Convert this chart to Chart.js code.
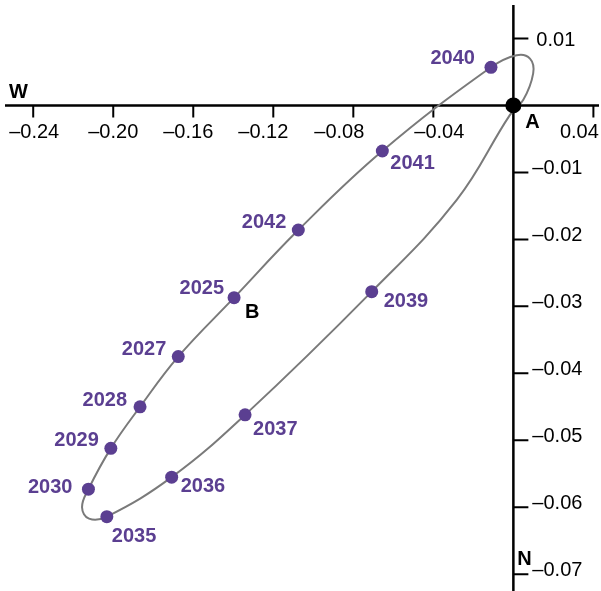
<!DOCTYPE html>
<html>
<head>
<meta charset="utf-8">
<script src="https://cdn.jsdelivr.net/npm/chart.js@4.4.1/dist/chart.umd.min.js"></script>
<style>
  html, body { margin:0; padding:0; background:#fff; }
  #wrap { width:601px; height:591px; }
</style>
</head>
<body>
<div id="wrap"><canvas id="chart" width="601" height="591"></canvas></div>
<script>
const PURPLE = "#5b3f91";
const GRAY = "#7a7a7a";
const FONT = '"Liberation Sans", Arial, Helvetica, sans-serif';

// labelled yearly positions (x: W-E, y: N-S)
const years = [2025, 2027, 2028, 2029, 2030, 2035, 2036, 2037, 2039, 2040, 2041, 2042];
const posX = [-0.1396, -0.1675, -0.1866, -0.2012, -0.2124, -0.2032, -0.1708, -0.1341, -0.0708, -0.0112, -0.0655, -0.1075];
const posY = [-0.0287, -0.0375, -0.0450, -0.0512, -0.0573, -0.0614, -0.0555, -0.0462, -0.0278, 0.0057, -0.0068, -0.0186];

// traced loop (starts and ends at 2025)
const pathX = [-0.1396, -0.1675, -0.1866, -0.2012, -0.2124, -0.2156, -0.2121, -0.2032, -0.1708, -0.1341, -0.0708, -0.0283, -0.0017, 0.0049, 0.0099, 0.0083, 0.0016, -0.0112, -0.0655, -0.1075, -0.1396];
const pathY = [-0.0287, -0.0375, -0.0450, -0.0512, -0.0573, -0.0600, -0.0617, -0.0614, -0.0555, -0.0462, -0.0278, -0.0141, -0.0014, 0.0008, 0.0048, 0.0070, 0.0075, 0.0057, -0.0068, -0.0186, -0.0287];

// point A
const originX = [0];
const originY = [0];

const xTicks = [-0.24, -0.20, -0.16, -0.12, -0.08, -0.04, 0.04];
const yTicks = [0.01, -0.01, -0.02, -0.03, -0.04, -0.05, -0.06, -0.07];

// label placement (pixels from the point: dx, baseline dy, align)
const yearLabelPos = [
  [-10, -4, "right"], [-12, -2, "right"], [-13, -1, "right"], [-12, -2, "right"],
  [-16, 4, "right"], [5, 25, "left"], [9, 15, "left"], [8, 20, "left"],
  [12, 15, "left"], [-16, -3, "right"], [8, 18, "left"], [-12, -2, "right"]
];
const xLabelShift = [1, 0, -5, -10, -14, 6, -14];

const fmt = (v) => (v < 0 ? "\u2013" : "") + Math.abs(v).toFixed(2);

const crossAxes = {
  id: "crossAxes",
  beforeDatasetsDraw(chart){
    const {ctx, chartArea:a, scales:{x, y}} = chart;
    const x0 = x.getPixelForValue(0), y0 = y.getPixelForValue(0);
    ctx.save();
    ctx.strokeStyle = "#000";
    ctx.lineWidth = 2.5;
    ctx.beginPath();
    ctx.moveTo(a.left, y0); ctx.lineTo(a.right, y0);
    ctx.moveTo(x0, a.top); ctx.lineTo(x0, a.bottom);
    ctx.stroke();

    ctx.lineWidth = 2;
    ctx.beginPath();
    xTicks.forEach(v => {
      const px = x.getPixelForValue(v);
      ctx.moveTo(px, y0); ctx.lineTo(px, y0 + 12);
    });
    yTicks.forEach(v => {
      const py = y.getPixelForValue(v);
      ctx.moveTo(x0, py); ctx.lineTo(x0 + 15, py);
    });
    ctx.stroke();

    ctx.fillStyle = "#000";
    ctx.font = `20px ${FONT}`;
    ctx.textAlign = "center";
    xTicks.forEach((v, i) => ctx.fillText(fmt(v), x.getPixelForValue(v) + xLabelShift[i], y0 + 33));
    ctx.textAlign = "left";
    yTicks.forEach(v => {
      const py = y.getPixelForValue(v);
      ctx.fillText(fmt(v), x0 + (v > 0 ? 23 : 19), py + (v > 0 ? 8 : 2));
    });
    ctx.restore();
  },
  afterDatasetsDraw(chart){
    const {ctx, chartArea:a, scales:{x, y}} = chart;
    const x0 = x.getPixelForValue(0), y0 = y.getPixelForValue(0);
    ctx.save();
    ctx.font = `bold 20px ${FONT}`;
    ctx.fillStyle = PURPLE;
    years.forEach((yr, i) => {
      const [dx, dy, align] = yearLabelPos[i];
      ctx.textAlign = align;
      ctx.fillText(String(yr), x.getPixelForValue(posX[i]) + dx, y.getPixelForValue(posY[i]) + dy);
    });
    ctx.fillStyle = "#000";
    ctx.font = `bold 20px ${FONT}`;
    ctx.textAlign = "left";
    ctx.fillText("A", x0 + 12, y0 + 23);
    ctx.fillText("B", x.getPixelForValue(posX[0]) + 11, y.getPixelForValue(posY[0]) + 20);
    ctx.fillText("W", a.left + 4, y0 - 7);
    ctx.fillText("N", x0 + 4, a.bottom - 26);
    ctx.restore();
  }
};

new Chart(document.getElementById("chart"), {
  type: "scatter",
  data: {
    datasets: [
      {
        label: "A",
        data: originX.map((v, i) => ({x: v, y: originY[i]})),
        backgroundColor: "#000",
        borderWidth: 0,
        pointRadius: 8
      },
      {
        label: "Years",
        data: posX.map((v, i) => ({x: v, y: posY[i]})),
        backgroundColor: PURPLE,
        borderWidth: 0,
        pointRadius: 6.5
      },
      {
        label: "Path",
        data: pathX.map((v, i) => ({x: v, y: pathY[i]})),
        showLine: true,
        borderColor: GRAY,
        borderWidth: 2,
        tension: 0.4,
        pointRadius: 0,
        fill: false
      }
    ]
  },
  options: {
    responsive: false,
    animation: false,
    layout: { autoPadding: false, padding: { left: 5, right: 2, top: 5, bottom: 0 } },
    plugins: { legend: { display: false }, tooltip: { enabled: false } },
    scales: {
      x: { type: "linear", min: -0.2541, max: 0.0428, display: false },
      y: { type: "linear", min: -0.0725, max: 0.015, display: false }
    }
  },
  plugins: [crossAxes]
});
</script>
</body>
</html>
